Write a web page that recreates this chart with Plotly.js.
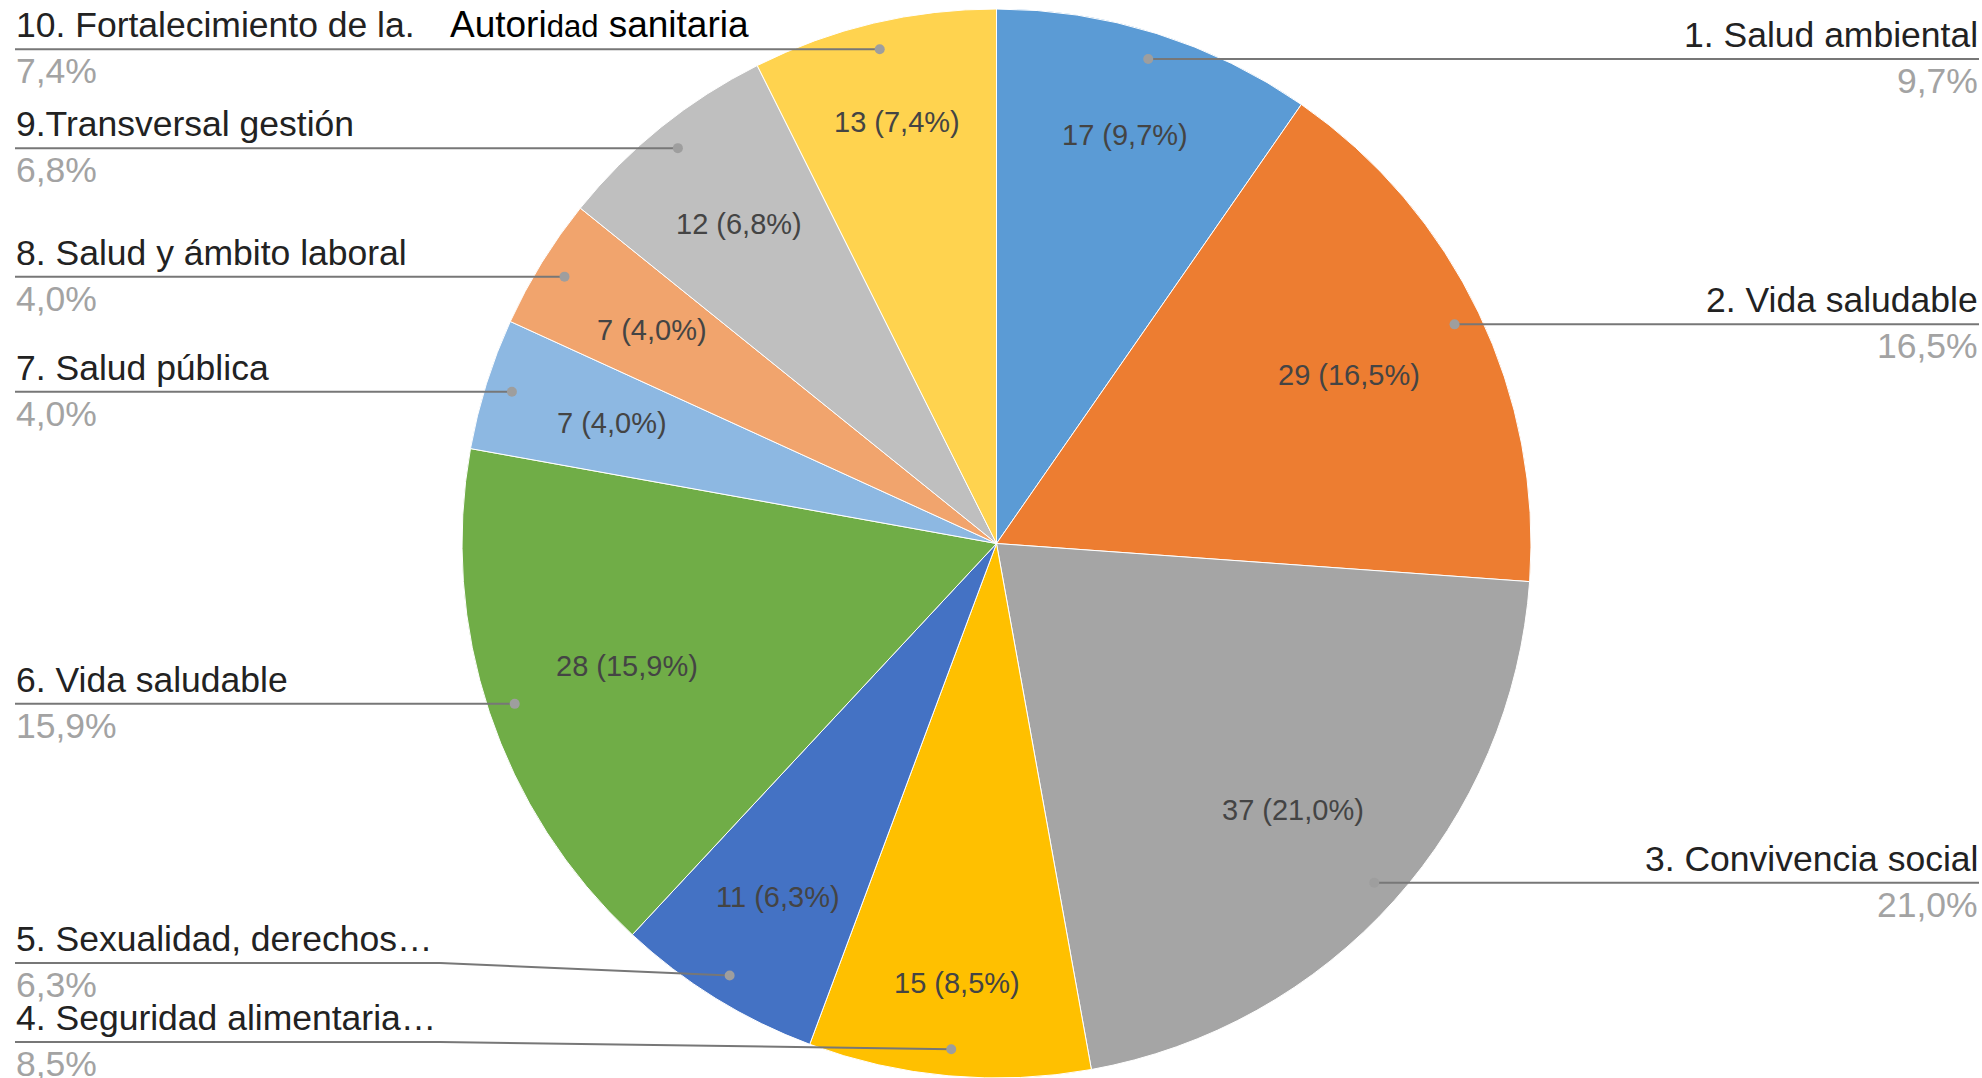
<!DOCTYPE html>
<html>
<head>
<meta charset="utf-8">
<script src="https://cdn.plot.ly/plotly-3.0.1.min.js"></script>
<style>html,body{margin:0;padding:0;background:#fff;}#chart{width:1982px;height:1078px;}</style>
</head>
<body>
<div id="chart"></div>
<script>
// ---- data ----
const categories = [
  '1. Salud ambiental',
  '2. Vida saludable',
  '3. Convivencia social',
  '4. Seguridad alimentaria…',
  '5. Sexualidad, derechos…',
  '6. Vida saludable',
  '7. Salud pública',
  '8. Salud y ámbito laboral',
  '9.Transversal gestión',
  '10. Fortalecimiento de la.'
];
const values = [17, 29, 37, 15, 11, 28, 7, 7, 12, 13];
const colors = ['#5B9BD5', '#ED7D31', '#A5A5A5', '#FFC000', '#4472C4',
                '#70AD47', '#8DB8E2', '#F1A46D', '#BFBFBF', '#FFD34F'];
const overlayText = 'Autori<span style="font-size:31px">dad</span> sanitaria';

// ---- geometry (layout only) ----
const W = 1982, H = 1078;
const cx = 996.5, cy = 543.5, r = 534.5;
const FONT = 'Arial, "Liberation Sans", sans-serif';
const labelSize = 35.5, innerSize = 29;
const leftX = 15, rightX = 1979, bendLeft = 440, bendRight = W - 440;
const gap = 79, maxLineY = 1042;

const px = x => x / W;
const py = y => 1 - y / H;

const total = values.reduce((a, b) => a + b, 0);
const fmtPct = v => (v / total * 100).toFixed(1).replace('.', ',');

// slice mid angles (clockwise from 12 o'clock)
let cum = 0;
const info = values.map((v, i) => {
  const a = (cum + v / 2) / total * 2 * Math.PI;
  cum += v;
  const s = Math.sin(a), c = Math.cos(a);
  return {i, v, s, c,
    dotX: cx + 0.95 * r * s, dotY: cy - 0.95 * r * c,
    side: s < 0 ? 'left' : 'right'};
});

// resolve label collisions per side
['left', 'right'].forEach(side => {
  const items = info.filter(d => d.side === side).sort((a, b) => a.dotY - b.dotY);
  items.forEach(d => d.lineY = d.dotY);
  for (let k = 1; k < items.length; k++)
    items[k].lineY = Math.max(items[k].lineY, items[k - 1].lineY + gap);
  for (let k = items.length - 1; k >= 0; k--) {
    let lim = maxLineY;
    if (k < items.length - 1) lim = Math.min(lim, items[k + 1].lineY - gap);
    items[k].lineY = Math.min(items[k].lineY, lim);
  }
});

const shapes = [];
const annotations = [];

info.forEach(d => {
  const edge = d.side === 'left' ? leftX : rightX;
  const bend = d.side === 'left' ? bendLeft : bendRight;
  const lineStyle = {color: '#777777', width: 2};
  if (Math.abs(d.lineY - d.dotY) < 0.5) {
    shapes.push({type: 'line', xref: 'paper', yref: 'paper',
      x0: px(edge), y0: py(d.lineY), x1: px(d.dotX), y1: py(d.dotY), line: lineStyle});
  } else {
    shapes.push({type: 'line', xref: 'paper', yref: 'paper',
      x0: px(edge), y0: py(d.lineY), x1: px(bend), y1: py(d.lineY), line: lineStyle});
    shapes.push({type: 'line', xref: 'paper', yref: 'paper',
      x0: px(bend), y0: py(d.lineY), x1: px(d.dotX), y1: py(d.dotY), line: lineStyle});
  }
  const dr = 5;
  shapes.push({type: 'circle', xref: 'paper', yref: 'paper',
    x0: px(d.dotX - dr), x1: px(d.dotX + dr), y0: py(d.dotY - dr), y1: py(d.dotY + dr),
    fillcolor: '#9e9e9e', line: {width: 0}});

  const xa = d.side === 'left' ? 'left' : 'right';
  annotations.push({xref: 'paper', yref: 'paper', x: px(edge), y: py(d.lineY - 3),
    xanchor: xa, yanchor: 'bottom', showarrow: false, borderpad: 0,
    text: categories[d.i], font: {family: FONT, size: labelSize, color: '#222'}});
  annotations.push({xref: 'paper', yref: 'paper', x: px(edge), y: py(d.lineY + 1),
    xanchor: xa, yanchor: 'top', showarrow: false, borderpad: 0,
    text: fmtPct(d.v) + '%', font: {family: FONT, size: labelSize, color: '#a3a3a3'}});

  // inside value labels
  const txt = d.v + ' (' + fmtPct(d.v) + '%)';
  const hw = txt.length * 14.3 / 2, hh = 15;
  const dist = 462 - (hw * Math.abs(d.s) + hh * Math.abs(d.c));
  annotations.push({xref: 'paper', yref: 'paper',
    x: px(cx + dist * d.s), y: py(cy - dist * d.c),
    xanchor: 'center', yanchor: 'middle', showarrow: false,
    text: txt, font: {family: FONT, size: innerSize, color: '#444'}});
});

// overlay text next to label 10
const d10 = info[9];
annotations.push({xref: 'paper', yref: 'paper', x: px(449), y: py(d10.lineY - 3),
  xanchor: 'left', yanchor: 'bottom', showarrow: false, borderpad: 0,
  text: overlayText, font: {family: FONT, size: 37, color: '#000'}});

const trace = {
  type: 'pie',
  labels: categories,
  values: values,
  sort: false,
  direction: 'clockwise',
  rotation: 0,
  marker: {colors: colors, line: {color: '#ffffff', width: 1}},
  textinfo: 'none',
  hoverinfo: 'skip',
  showlegend: false,
  domain: {x: [(cx - r) / W, (cx + r) / W], y: [1 - (cy + r) / H, 1 - (cy - r) / H]}
};

const layout = {
  width: W, height: H,
  margin: {l: 0, r: 0, t: 0, b: 0},
  paper_bgcolor: '#ffffff',
  showlegend: false,
  shapes: shapes,
  annotations: annotations
};

Plotly.newPlot('chart', [trace], layout, {displayModeBar: false, staticPlot: true});
</script>
</body>
</html>
